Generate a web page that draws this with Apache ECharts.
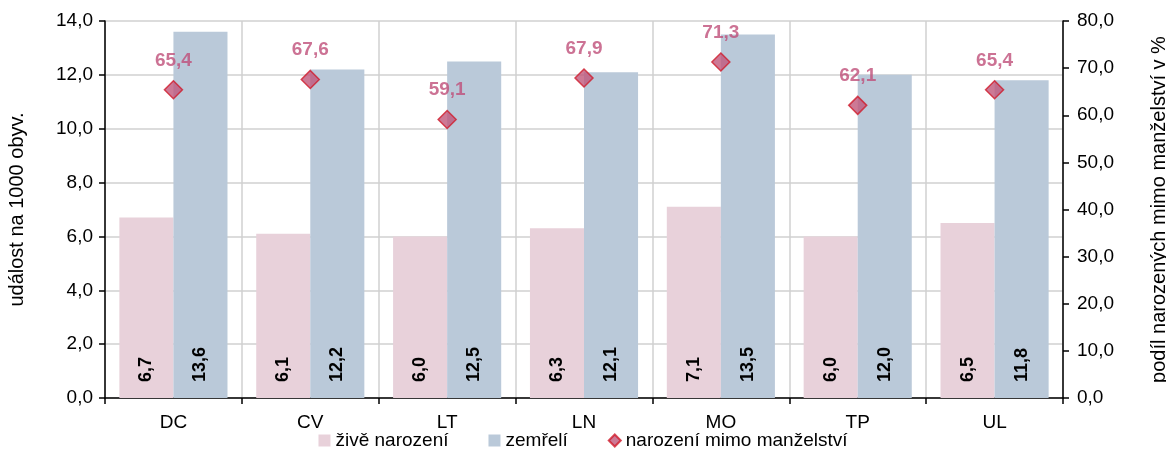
<!DOCTYPE html>
<html>
<head>
<meta charset="utf-8">
<script src="https://cdn.jsdelivr.net/npm/echarts@6/dist/echarts.min.js"></script>
<style>
  html, body { margin: 0; padding: 0; background: #fff; }
  #chart { width: 1166px; height: 475px; }
</style>
</head>
<body>
<div id="chart"></div>
<script>
// regions
const categories = ['DC', 'CV', 'LT', 'LN', 'MO', 'TP', 'UL']
// per 1000 inhabitants
const births = [6.7, 6.1, 6.0, 6.3, 7.1, 6.0, 6.5]
const deaths = [13.6, 12.2, 12.5, 12.1, 13.5, 12.0, 11.8]
// share of births outside marriage, %
const outsideMarriage = [65.4, 67.6, 59.1, 67.9, 71.3, 62.1, 65.4]

const fmt = v => v.toFixed(1).replace('.', ',')
const FONT = '"Liberation Sans", Arial, sans-serif'

const chart = echarts.init(document.getElementById('chart'))

const barLabel = {
  show: true, position: 'insideBottom', rotate: 90, align: 'left', verticalAlign: 'middle',
  distance: 16, color: '#000', fontWeight: 'bold', fontSize: 18, fontFamily: FONT,
  formatter: p => fmt(p.value),
}

const axisStyle = { color: '#000', width: 1.5 }

chart.setOption({
  backgroundColor: '#fff',
  textStyle: { fontFamily: FONT },
  grid: { left: 105, right: 103, top: 21, bottom: 77, outerBoundsMode: 'none', containLabel: false },
  legend: {
    bottom: 20, left: 'center', itemGap: 40, itemWidth: 12, itemHeight: 12,
    textStyle: { color: '#000', fontSize: 19, fontFamily: FONT },
    data: [
      { name: 'živě narození', icon: 'rect' },
      { name: 'zemřelí', icon: 'rect' },
      { name: 'narození mimo manželství', icon: 'diamond' },
    ],
  },
  xAxis: {
    type: 'category', data: categories,
    axisLine: { lineStyle: axisStyle },
    axisTick: { show: true, length: 6, lineStyle: axisStyle },
    axisLabel: { color: '#000', fontSize: 19, fontFamily: FONT, margin: 15 },
    splitLine: { show: true, lineStyle: { color: '#d0d0d0', width: 1.5 } },
  },
  yAxis: [
    {
      type: 'value', min: 0, max: 14, interval: 2,
      name: 'událost na 1000 obyv.', nameLocation: 'middle', nameRotate: 90, nameGap: 78,
      nameTextStyle: { color: '#000', fontSize: 20, fontFamily: FONT },
      axisLine: { show: true, lineStyle: axisStyle },
      axisTick: { show: true, length: 6, lineStyle: axisStyle },
      axisLabel: { color: '#000', fontSize: 19, fontFamily: FONT, margin: 12, formatter: fmt },
      splitLine: { lineStyle: { color: '#d0d0d0', width: 1.5 } },
    },
    {
      type: 'value', min: 0, max: 80, interval: 10,
      name: 'podíl narozených mimo manželství v %', nameLocation: 'middle', nameRotate: 90, nameGap: 86,
      nameTextStyle: { color: '#000', fontSize: 20, fontFamily: FONT },
      axisLine: { show: true, lineStyle: axisStyle },
      axisTick: { show: true, length: 6, lineStyle: axisStyle },
      axisLabel: { color: '#000', fontSize: 19, fontFamily: FONT, margin: 14, formatter: fmt },
      splitLine: { show: false },
    },
  ],
  series: [
    {
      name: 'živě narození', type: 'bar', data: births, barGap: '0%', barCategoryGap: '21%',
      itemStyle: { color: '#e8d1da' }, label: barLabel,
    },
    {
      name: 'zemřelí', type: 'bar', data: deaths,
      itemStyle: { color: '#bac9d9' }, label: barLabel,
    },
    {
      name: 'narození mimo manželství', type: 'scatter', yAxisIndex: 1, data: outsideMarriage,
      symbol: 'diamond', symbolSize: 18, z: 5,
      itemStyle: { color: '#c0577a', borderColor: '#d01c2c', borderWidth: 1.5 },
      label: {
        show: true, position: 'top', distance: 10, color: '#bf4f79',
        fontWeight: 'bold', fontSize: 19, fontFamily: FONT, formatter: p => fmt(p.value),
      },
    },
  ],
})
</script>
</body>
</html>
